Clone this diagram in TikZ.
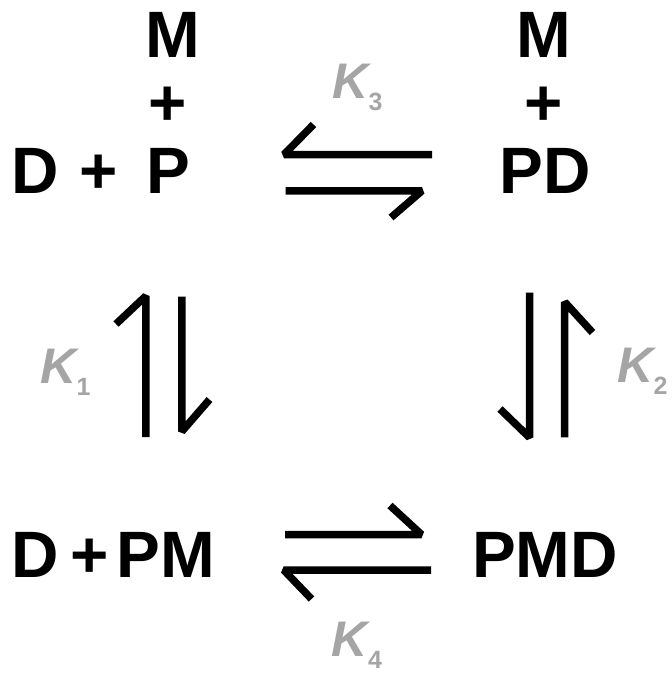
\documentclass[tikz,border=0pt]{standalone}
\usepackage{fontspec}
\setmainfont{Liberation Sans}
\definecolor{kgray}{RGB}{165,165,165}
% subscript of an equilibrium constant
\newcommand{\ksub}[1]{\raisebox{-12pt}{\fontsize{25}{25}\selectfont\upshape\bfseries #1}}
\begin{document}
\begin{tikzpicture}[x=1pt,y=-1pt,
  species/.style={font=\fontsize{65.6}{70}\selectfont\bfseries, inner sep=0pt, anchor=base},
  klabel/.style={text=kgray, font=\fontsize{50}{52}\selectfont\bfseries\itshape, inner sep=0pt, anchor=base},
  harpoon/.style={line width=7.5pt, line join=bevel, line cap=butt}]
\useasboundingbox (0,0) rectangle (672,675);

% species, top left
\node[species] (m1) at (172.5,57) {M};
\node[species] (pl1) at (168,125) {+};
\node[species] (d1) at (35.5,193) {D};
\node[species] (pl2) at (98.5,193) {+};
\node[species] (p1) at (168.5,193) {P};
% species, top right
\node[species] (m2) at (544,57) {M};
\node[species] (pl3) at (544,125) {+};
\node[species] (pd) at (545,193) {PD};
% species, bottom
\node[species] (d2) at (35.5,577) {D};
\node[species] (pl4) at (89.5,577) {+};
\node[species] (pm) at (166,577) {PM};
\node[species] (pmd) at (545,577) {PMD};

% equilibrium constants
\node[klabel] (k1) at (65.5,383) {K\ksub{1}};
\node[klabel] (k2) at (642.5,382) {K\ksub{2}};
\node[klabel] (k3) at (357.5,98) {K\ksub{3}};
\node[klabel] (k4) at (357,656) {K\ksub{4}};

% harpoon end points
\coordinate (t1a) at (432,154.5);  \coordinate (t1b) at (284,154.5);  \coordinate (t1c) at (313.5,124.5);
\coordinate (t2a) at (285.7,190.8); \coordinate (t2b) at (422,190.8); \coordinate (t2c) at (391,217.5);
\coordinate (l1a) at (145.8,437);  \coordinate (l1b) at (145.8,296);  \coordinate (l1c) at (116,324);
\coordinate (l2a) at (181.8,296.7); \coordinate (l2b) at (181.8,431.5); \coordinate (l2c) at (209.5,399.5);
\coordinate (r1a) at (529.5,292.7); \coordinate (r1b) at (529.5,437.5); \coordinate (r1c) at (500,409);
\coordinate (r2a) at (564.7,437.3); \coordinate (r2b) at (564.7,302);  \coordinate (r2c) at (592.5,332.5);
\coordinate (b1a) at (285,534.5);  \coordinate (b1b) at (421.5,534.5); \coordinate (b1c) at (390,505.5);
\coordinate (b2a) at (431,570);    \coordinate (b2b) at (283.7,570);  \coordinate (b2c) at (311.5,599);

% equilibrium harpoons
\draw[harpoon] (t1a) -- (t1b) -- (t1c);
\draw[harpoon] (t2a) -- (t2b) -- (t2c);
\draw[harpoon] (l1a) -- (l1b) -- (l1c);
\draw[harpoon] (l2a) -- (l2b) -- (l2c);
\draw[harpoon] (r1a) -- (r1b) -- (r1c);
\draw[harpoon] (r2a) -- (r2b) -- (r2c);
\draw[harpoon] (b1a) -- (b1b) -- (b1c);
\draw[harpoon] (b2a) -- (b2b) -- (b2c);
\end{tikzpicture}
\end{document}
